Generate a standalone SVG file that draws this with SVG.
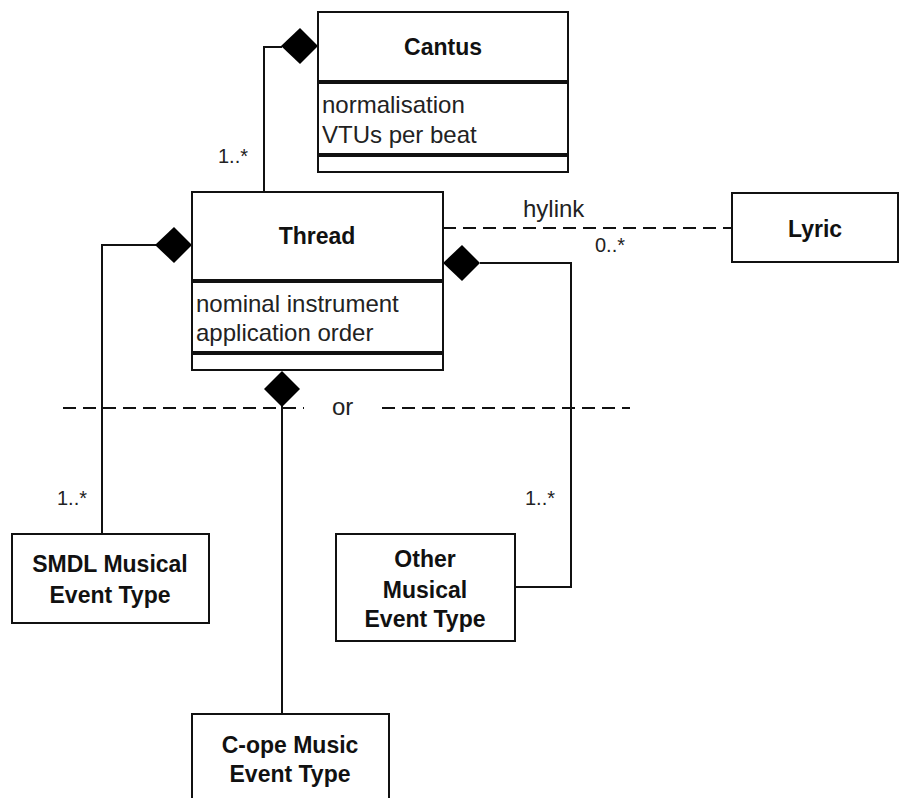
<svg xmlns="http://www.w3.org/2000/svg" width="901" height="798" viewBox="0 0 901 798">
<style>
.box{fill:#fff;stroke:#111;stroke-width:2}
.div{stroke:#111;stroke-width:4}
.ln{fill:none;stroke:#111;stroke-width:2}
.dash{fill:none;stroke:#111;stroke-width:2;stroke-dasharray:13 7}
.dia{fill:#000;stroke:none}
.b{font-family:"Liberation Sans",Arial,sans-serif;font-weight:bold;font-size:23px;fill:#111;text-anchor:middle}
.r{font-family:"Liberation Sans",Arial,sans-serif;font-size:24px;fill:#222}
.m{font-family:"Liberation Sans",Arial,sans-serif;font-size:20px;fill:#222}
</style>
<rect width="901" height="798" fill="#fff"/>
<g id="connectors">
  <polyline class="ln" points="264,192 264,47 282,47"/>
  <polyline class="ln" points="156,245 102,245 102,534"/>
  <polyline class="ln" points="480,263 571,263 571,587 515,587"/>
  <line class="ln" x1="282" y1="404" x2="282" y2="714"/>
  <line class="dash" x1="443" y1="228" x2="732" y2="228"/>
  <line class="dash" x1="63" y1="408" x2="304" y2="408"/>
  <line class="dash" x1="382" y1="408" x2="630" y2="408"/>
  <polygon class="dia" points="318,46 300,28 281,46 300,64"/>
  <polygon class="dia" points="192,245 174,227 155,245 174,263"/>
  <polygon class="dia" points="443,263 462,245 480,263 462,281"/>
  <polygon class="dia" points="282,371 300,389 282,407 264,389"/>
  <text class="r" x="523" y="217">hylink</text>
  <text class="m" x="595" y="252">0..*</text>
  <text class="m" x="218" y="163">1..*</text>
  <text class="m" x="57" y="505">1..*</text>
  <text class="m" x="525" y="505">1..*</text>
  <text class="r" x="332" y="415">or</text>
</g>
<g id="cantus">
  <rect class="box" x="318" y="12" width="250" height="160"/>
  <line class="div" x1="318" y1="82" x2="568" y2="82"/>
  <line class="div" x1="318" y1="155" x2="568" y2="155"/>
  <text class="b" x="443" y="55">Cantus</text>
  <text class="r" x="322" y="113">normalisation</text>
  <text class="r" x="322" y="143">VTUs per beat</text>
</g>
<g id="thread">
  <rect class="box" x="192" y="192" width="251" height="178"/>
  <line class="div" x1="192" y1="281" x2="443" y2="281"/>
  <line class="div" x1="192" y1="353" x2="443" y2="353"/>
  <text class="b" x="317" y="244">Thread</text>
  <text class="r" x="196" y="312">nominal instrument</text>
  <text class="r" x="196" y="341">application order</text>
</g>
<g id="lyric">
  <rect class="box" x="732" y="193" width="166" height="69"/>
  <text class="b" x="815" y="237">Lyric</text>
</g>
<g id="smdl">
  <rect class="box" x="12" y="534" width="197" height="89"/>
  <text class="b" x="110" y="572">SMDL Musical</text>
  <text class="b" x="110" y="603">Event Type</text>
</g>
<g id="other">
  <rect class="box" x="336" y="534" width="179" height="107"/>
  <text class="b" x="425" y="567">Other</text>
  <text class="b" x="425" y="598">Musical</text>
  <text class="b" x="425" y="627">Event Type</text>
</g>
<g id="cope">
  <rect class="box" x="192" y="714" width="197" height="100"/>
  <text class="b" x="290" y="753">C-ope Music</text>
  <text class="b" x="290" y="782">Event Type</text>
</g>
</svg>
